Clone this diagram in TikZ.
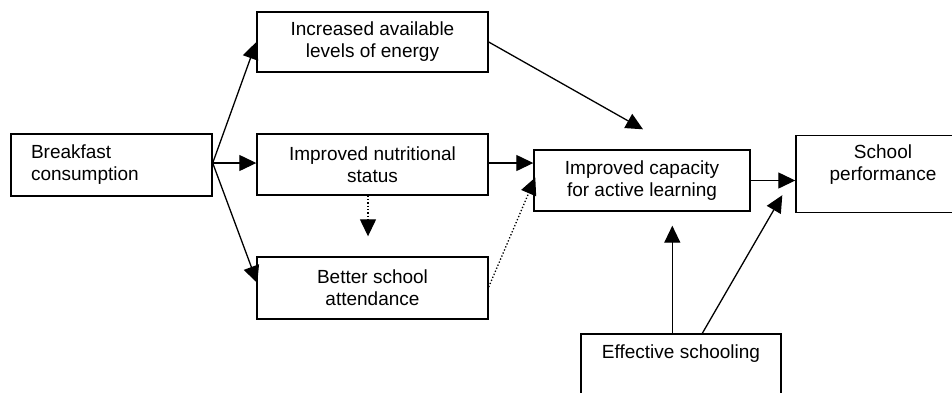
\documentclass[tikz,border=0pt]{standalone}
\usepackage{fontspec}
\setmainfont{Liberation Sans}
\usetikzlibrary{arrows.meta,calc}
\begin{document}
\begin{tikzpicture}[x=1pt,y=-1pt,
  box/.style={draw, line width=1.4pt, rectangle, inner sep=0pt, align=center,
    font=\fontsize{19}{22}\selectfont},
  arr/.style={line width=1.3pt, -{Triangle[length=17pt,width=16pt]}},
  dotarr/.style={arr, dotted}]
\useasboundingbox (0,0) rectangle (952,392);
\fill[white] (0,0) rectangle (952,392);
\node[box, minimum width=201pt, minimum height=62pt, text width=161pt, inner xsep=20pt, align=left] (B) at (111.5,165) {Breakfast\\consumption};
\node[box, minimum width=231pt, minimum height=60pt] (E) at (372.5,42) {Increased available\\levels of energy};
\node[box, minimum width=231pt, minimum height=61pt] (N) at (372.5,164.5) {Improved nutritional\\status};
\node[box, minimum width=231pt, minimum height=62pt] (A) at (372.5,288) {Better school\\attendance};
\node[box, minimum width=216pt, minimum height=61pt] (C) at (642,180.5) {Improved capacity\\for active learning};
\node[box, minimum width=174pt, minimum height=77pt] (P) at (883,174) {School\\performance\\\mbox{}};
\node[box, minimum width=200pt, minimum height=80pt] (S) at (681,374) {Effective schooling\\\mbox{}\\\mbox{}};

\coordinate (b0) at ($(B.east)+(0,-2)$);
\coordinate (n0) at ($(N.east)+(0,-1.5)$);
\draw[arr] (b0) -- (E.west);
\draw[arr] (b0) -- (b0 -| N.west);
\draw[arr] (b0) -- ($(A.west)+(1,-5)$);
\draw[arr] (E.east) -- ($(C.north)+(1,-20)$);
\draw[arr] (n0) -- (n0 -| C.west);
\draw[dotarr] ($(N.south)+(-4.5,0)$) -- ($(A.north)+(-4.5,-20)$);
\draw[dotarr] ($(A.east)+(0,-1)$) -- ($(C.west)+(2,-3)$);
\draw[arr] (C.east) -- (C.east -| P.west);
\draw[arr] ($(S.north west)+(92,0)$) -- ($(C.south west)+(139,14)$);
\draw[arr] ($(S.north west)+(122,0)$) -- ($(P.south west)+(-13,-18)$);
\end{tikzpicture}
\end{document}
